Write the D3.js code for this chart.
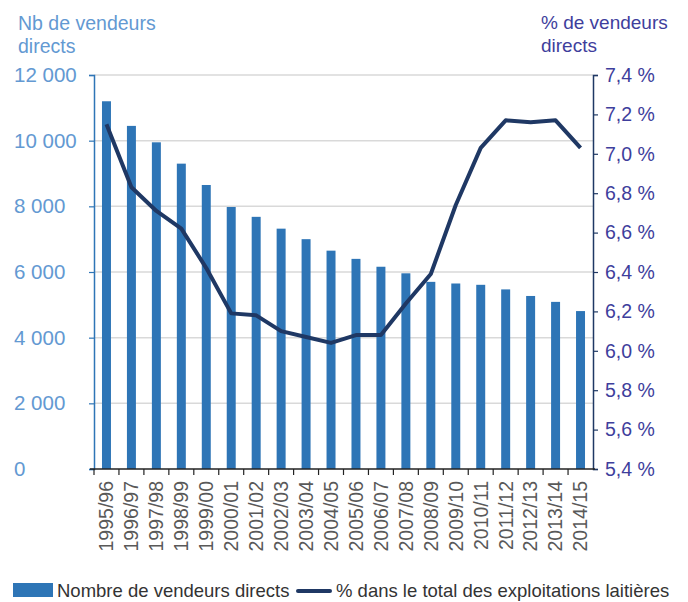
<!DOCTYPE html>
<html>
<head>
<meta charset="utf-8">
<script src="https://cdn.jsdelivr.net/npm/d3@7"></script>
<style>
  body { margin: 0; background: #fff; }
  svg { font-family: "Liberation Sans", Arial, sans-serif; }
</style>
</head>
<body>
<div id="chart"></div>
<script>
// direct sellers: count (bars, left axis) and share of dairy farms (line, right axis)
const years = ["1995/96", "1996/97", "1997/98", "1998/99", "1999/00", "2000/01", "2001/02",
  "2002/03", "2003/04", "2004/05", "2005/06", "2006/07", "2007/08", "2008/09", "2009/10",
  "2010/11", "2011/12", "2012/13", "2013/14", "2014/15"];
const vendeurs = [11200, 10450, 9950, 9300, 8650, 7980, 7680, 7320, 7000, 6650,
  6400, 6160, 5960, 5700, 5650, 5610, 5470, 5270, 5090, 4810];
const pct = [7.15, 6.83, 6.71, 6.62, 6.42, 6.19, 6.18, 6.10, 6.07, 6.04,
  6.08, 6.08, 6.24, 6.39, 6.74, 7.03, 7.17, 7.16, 7.17, 7.03];
const leftTicks = [0, 2000, 4000, 6000, 8000, 10000, 12000];
const rightTicks = [5.4, 5.6, 5.8, 6.0, 6.2, 6.4, 6.6, 6.8, 7.0, 7.2, 7.4];

const barColor = "#2e75b6",
  lineColor = "#1f3864",
  leftText = "#6399d2",
  rightText = "#3e3e9c";

const W = 688, H = 602;
const plot = { left: 94, right: 593, top: 75, bottom: 469 };

const fr = d3.formatLocale({ decimal: ",", thousands: " ", grouping: [3], currency: ["", " €"] });
const fmtN = fr.format(",d");
const fmtP = (d) => fr.format(".1f")(d) + " %";

const svg = d3.select("#chart").append("svg")
  .attr("width", W).attr("height", H);

const x = d3.scaleBand().domain(years).range([plot.left, plot.right])
  .paddingInner(0.64).paddingOuter(0.32);
const yL = d3.scaleLinear().domain([0, 12000]).range([plot.bottom, plot.top]);
const yR = d3.scaleLinear().domain([5.4, 7.4]).range([plot.bottom, plot.top]);
const cx = (d) => x(d) + x.bandwidth() / 2;

// gridlines
svg.append("g")
  .selectAll("line")
  .data(leftTicks.slice(1))
  .join("line")
  .attr("x1", plot.left).attr("x2", plot.right)
  .attr("y1", (d) => yL(d)).attr("y2", (d) => yL(d))
  .attr("stroke", "#d9d9d9").attr("stroke-width", 1.5);

// bars
svg.append("g")
  .selectAll("rect")
  .data(years)
  .join("rect")
  .attr("x", (d) => x(d))
  .attr("y", (d, i) => yL(vendeurs[i]))
  .attr("width", x.bandwidth())
  .attr("height", (d, i) => yL(0) - yL(vendeurs[i]))
  .attr("fill", barColor);

// left axis
const gL = svg.append("g")
  .attr("transform", `translate(${plot.left},0)`)
  .call(d3.axisLeft(yL).tickValues(leftTicks).tickFormat(fmtN).tickSize(5).tickPadding(0));
gL.select(".domain").attr("stroke", barColor).attr("stroke-width", 1.5);
gL.selectAll(".tick line").attr("stroke", barColor).attr("stroke-width", 1.2);
gL.selectAll("text")
  .attr("x", 14 - plot.left)
  .attr("text-anchor", "start")
  .attr("fill", leftText)
  .style("font-size", "20.5px");

// right axis
const gR = svg.append("g")
  .attr("transform", `translate(${plot.right},0)`)
  .call(d3.axisRight(yR).tickValues(rightTicks).tickFormat(fmtP).tickSize(5).tickPadding(7));
gR.select(".domain").attr("stroke", lineColor).attr("stroke-width", 1.5);
gR.selectAll(".tick line").attr("stroke", lineColor).attr("stroke-width", 1.2);
gR.selectAll("text")
  .attr("fill", rightText)
  .style("font-size", "19.5px");

// bottom axis
const gX = svg.append("g")
  .attr("transform", `translate(0,${plot.bottom})`)
  .call(d3.axisBottom(x).tickSize(0).tickPadding(0));
gX.select(".domain").remove();
gX.append("line")
  .attr("x1", plot.left - 4).attr("x2", plot.right + 2)
  .attr("stroke", "#222").attr("stroke-width", 1.5);
gX.selectAll(".xtick")
  .data(years)
  .join("line")
  .attr("class", "xtick")
  .attr("x1", (d) => cx(d) - x.step() / 2).attr("x2", (d) => cx(d) - x.step() / 2)
  .attr("y1", 0).attr("y2", 6)
  .attr("stroke", "#222").attr("stroke-width", 1.2);
gX.selectAll(".tick text")
  .attr("transform", "rotate(-90)")
  .attr("x", -12).attr("y", 0).attr("dy", "0.35em")
  .attr("text-anchor", "end")
  .attr("fill", "#595959")
  .style("font-size", "19.5px");

// line
svg.append("path")
  .datum(years)
  .attr("fill", "none")
  .attr("stroke", lineColor)
  .attr("stroke-width", 4)
  .attr("stroke-linejoin", "round")
  .attr("d", d3.line().x((d) => cx(d)).y((d, i) => yR(pct[i])));

// axis titles
const tL = svg.append("text").attr("fill", leftText).style("font-size", "19.5px");
tL.append("tspan").attr("x", 18).attr("y", 30).text("Nb de vendeurs");
tL.append("tspan").attr("x", 18).attr("y", 53).text("directs");
const tR = svg.append("text").attr("fill", rightText).style("font-size", "19px");
tR.append("tspan").attr("x", 541).attr("y", 29).text("% de vendeurs");
tR.append("tspan").attr("x", 541).attr("y", 52).text("directs");

// legend
const lg = svg.append("g").style("font-size", "18.5px").attr("fill", "#333");
lg.append("rect").attr("x", 13).attr("y", 583).attr("width", 40).attr("height", 14).attr("fill", barColor);
lg.append("text").attr("x", 57).attr("y", 597).text("Nombre de vendeurs directs");
lg.append("line").attr("x1", 298).attr("x2", 330).attr("y1", 591).attr("y2", 591)
  .attr("stroke", lineColor).attr("stroke-width", 4).attr("stroke-linecap", "round");
lg.append("text").attr("x", 336).attr("y", 597).text("% dans le total des exploitations laitières");
</script>
</body>
</html>
